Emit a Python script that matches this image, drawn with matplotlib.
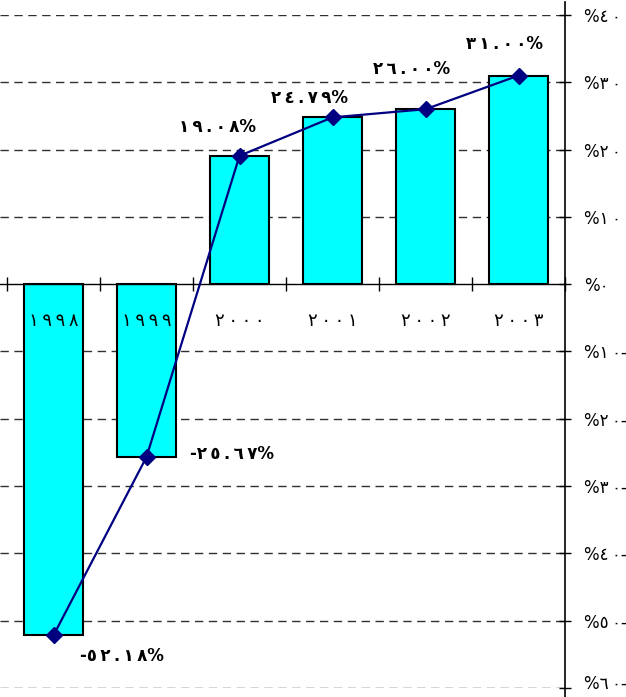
import matplotlib
matplotlib.use("Agg")
import matplotlib.pyplot as plt
import numpy as np

# %% data
years = ["1998", "1999", "2000", "2001", "2002", "2003"]
growth = [-52.18, -25.67, 19.08, 24.79, 26.00, 31.00]
yticks = [40, 30, 20, 10, 0, -10, -20, -30, -40, -50, -60]

AR = str.maketrans("0123456789", "٠١٢٣٤٥٦٧٨٩")
TS = "\u2009"  # thin space, the original font spaces its digits out

def ar(s):
    return TS.join(s.translate(AR))

def tick_label(v):
    # visual order as in the original: % first, minus at the end
    s = "%" + ar(str(abs(v)))
    return s + "-" if v < 0 else s

def value_label(v):
    s = ar(f"{abs(v):.2f}") + "%"
    return "-" + s if v < 0 else s

# %% figure
plt.rcParams['font.family'] = ['DejaVu Sans']
fig = plt.figure(figsize=(6.26, 6.97), dpi=100)
ax = fig.add_axes([0.0, 0.0129, 0.9026, 0.9656])

x = np.arange(len(years))
ax.bar(x, growth, width=0.63, color="#00FFFF", edgecolor="black", linewidth=1.5, zorder=2)
ax.plot(x, growth, color="#000080", linewidth=1.6, marker="D", markersize=8,
        markerfacecolor="#000080", markeredgecolor="#000080", zorder=3)

ax.set_xlim(-0.5 - 7 / 93, 5.5)
ax.set_ylim(-60, 40)

# gridlines (dashed) except at zero
for v in yticks:
    if v != 0:
        ax.axhline(v, color="#303030", linestyle=(0, (6, 4)), linewidth=1.0, zorder=1)

# spines
for s in ["top", "left"]:
    ax.spines[s].set_visible(False)
ax.spines["right"].set_linewidth(1.2)
ax.spines["right"].set_bounds(-62, 42)
ax.spines["bottom"].set_position(("data", 0))
ax.spines["bottom"].set_linewidth(1.0)

ax.yaxis.tick_right()
ax.set_yticks(yticks)
labels = [tick_label(v) for v in yticks]
ax.set_yticklabels(labels[:-1] + [""], fontsize=12)
ax.tick_params(axis="y", direction="inout", length=9, width=1.0, pad=9)
# bottom label drawn a bit higher so it stays inside the picture
ax.annotate(labels[-1], (1.0, -60), xycoords=("axes fraction", "data"),
            xytext=(13.5, 3), textcoords="offset points",
            ha="left", va="center", fontsize=12)

ax.set_xticks(np.arange(-0.5, 6.0, 1.0))
ax.set_xticklabels([])
ax.tick_params(axis="x", direction="inout", length=10, width=1.0)

# year labels inside the plot below zero line
for i, yr in enumerate(years):
    ax.text(i, -5.4, ar(yr), ha="center", va="center", fontsize=13)

# value labels
offsets = [(26, -21, "left"), (43, 3, "left"), (-22, 29, "center"),
           (-23, 19, "center"), (-14, 40, "center"), (-14, 32, "center")]
for i, v in enumerate(growth):
    dx, dy, ha = offsets[i]
    ax.annotate(value_label(v), (i, v), xytext=(dx * 0.72, dy * 0.72),
                textcoords="offset points", ha=ha, va="center",
                fontsize=12, fontweight="bold")

fig.savefig("out.png", dpi=100)
